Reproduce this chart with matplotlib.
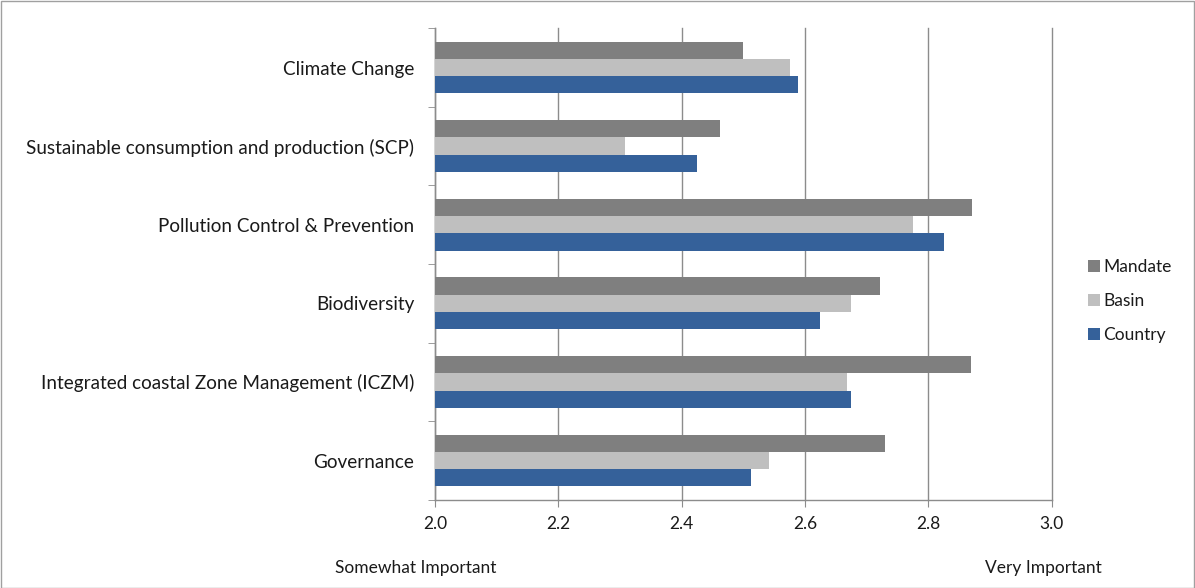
import matplotlib
matplotlib.use("Agg")
import matplotlib.pyplot as plt
from matplotlib.patches import Rectangle, Patch
from matplotlib.ticker import FixedLocator
import numpy as np

plt.rcParams['font.family'] = ['Lato', 'DejaVu Sans']

categories = [
    "Climate Change",
    "Sustainable consumption and production (SCP)",
    "Pollution Control & Prevention",
    "Biodiversity",
    "Integrated coastal Zone Management (ICZM)",
    "Governance",
]
mandate = [2.50, 2.462, 2.871, 2.722, 2.869, 2.730]
basin = [2.575, 2.308, 2.775, 2.675, 2.668, 2.541]
country = [2.589, 2.425, 2.825, 2.625, 2.675, 2.512]
series_names = ["Mandate", "Basin", "Country"]
x_ticks = [2.0, 2.2, 2.4, 2.6, 2.8, 3.0]
x_left_label = "Somewhat Important"
x_right_label = "Very Important"

colors = {"Mandate": "#7f7f7f", "Basin": "#bfbfbf", "Country": "#35619a"}
grid_color = "#8c8c8c"
text_color = "#1a1a1a"

fig = plt.figure(figsize=(11.95, 5.88), dpi=100)
ax = fig.add_axes([0.364, 0.150, 0.516, 0.802])

n = len(categories)
ypos = np.arange(n)[::-1].astype(float)
h = 0.22
ax.barh(ypos + h, mandate, height=h, color=colors["Mandate"], zorder=3)
ax.barh(ypos, basin, height=h, color=colors["Basin"], zorder=3)
ax.barh(ypos - h, country, height=h, color=colors["Country"], zorder=3)

ax.set_xlim(2.0, 3.0)
ax.set_ylim(-0.5, n - 0.5)
ax.set_xticks(x_ticks)
ax.set_xticklabels([f"{t:.1f}" for t in x_ticks], fontsize=12.5, color=text_color)
ax.set_yticks(ypos)
ax.set_yticklabels(categories, fontsize=13.6, color=text_color)
ax.yaxis.set_minor_locator(FixedLocator(np.arange(-0.5, n, 1.0)))
ax.tick_params(axis='y', which='major', length=0, pad=15)
ax.tick_params(axis='y', which='minor', length=5, color=grid_color, direction='out')
ax.tick_params(axis='x', which='major', length=5, color=grid_color, direction='out', pad=7)

ax.grid(axis='x', color=grid_color, linewidth=1.0, zorder=0)
for gl in ax.get_xgridlines():
    gl.set_clip_on(False)
for side in ("top", "right"):
    ax.spines[side].set_visible(False)
for side in ("left", "bottom"):
    ax.spines[side].set_color(grid_color)
    ax.spines[side].set_linewidth(1.0)

fig.text(335 / 1195, 1 - 568 / 588, x_left_label, fontsize=12.5, color=text_color,
         ha='left', va='center')
fig.text(1043 / 1195, 1 - 568 / 588, x_right_label, fontsize=12.5, color=text_color,
         ha='center', va='center')

handles = [Patch(facecolor=colors[s], edgecolor='none') for s in series_names]
fig.legend(handles, series_names, loc='center left',
           bbox_to_anchor=(1072 / 1195, 1 - 301 / 588), frameon=False,
           fontsize=12.5, handlelength=0.7, handleheight=0.7,
           handletextpad=0.2, labelspacing=1.05, labelcolor=text_color)

fig.patches.append(Rectangle((0.5 / 1195, 0.5 / 588), 1 - 1.5 / 1195, 1 - 1.5 / 588,
                             transform=fig.transFigure, fill=False,
                             edgecolor="#a0a0a0", linewidth=1.0))

fig.savefig("out.png", dpi=100, facecolor="white")
